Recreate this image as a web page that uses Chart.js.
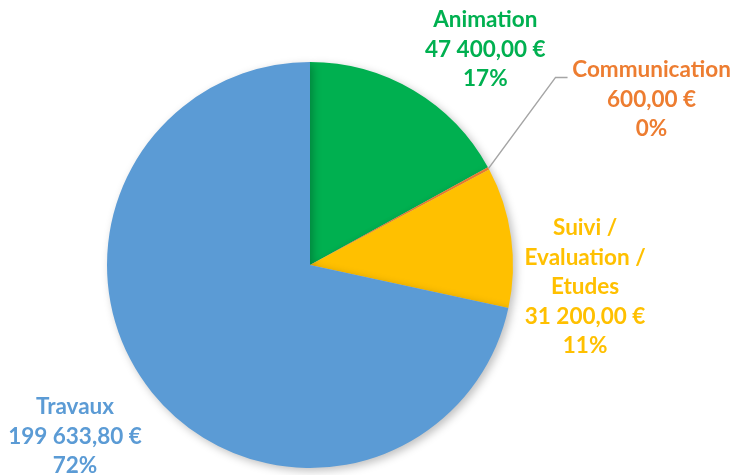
<!DOCTYPE html>
<html>
<head>
<meta charset="utf-8">
<script src="https://cdn.jsdelivr.net/npm/chart.js@4"></script>
<style>
  html, body { margin: 0; padding: 0; background: #fff; }
  #wrap { width: 731px; height: 475px; position: relative; }
</style>
</head>
<body>
<div id="wrap"><canvas id="pieBudget"></canvas></div>
<script>
const categories = ['Animation', 'Communication', 'Suivi / Evaluation / Etudes', 'Travaux'];
const labelLines = [['Animation'], ['Communication'], ['Suivi /', 'Evaluation /', 'Etudes'], ['Travaux']];
const montants = [47400, 600, 31200, 199633.8];
const couleurs = ['#00B050', '#ED7D31', '#FFC000', '#5B9BD5'];

// label placement relative to the slice's outer mid point
const labelOffsets = [[72, -41], [163, -69], [74, 50], [-77, 44]];

function fmtEuro(v) {
  let parts = v.toFixed(2).split('.');
  let ent = parts[0].replace(/\B(?=(\d{3})+(?!\d))/g, ' ');
  return ent + ',' + parts[1] + ' €';
}

const shadowPlugin = {
  id: 'shadow',
  beforeDatasetDraw(chart) {
    const c = chart.ctx;
    c.save();
    c.shadowColor = 'rgba(0,0,0,0.25)';
    c.shadowBlur = 8;
    c.shadowOffsetX = 3;
    c.shadowOffsetY = 3;
  },
  afterDatasetDraw(chart) {
    chart.ctx.restore();
  }
};

const labelsPlugin = {
  id: 'pieLabels',
  afterDatasetsDraw(chart) {
    const c = chart.ctx;
    const meta = chart.getDatasetMeta(0);
    const data = chart.data.datasets[0].data;
    const total = data.reduce((a, b) => a + b, 0);
    c.save();
    c.font = 'bold 22.5px Lato';
    c.textAlign = 'center';
    c.textBaseline = 'middle';
    meta.data.forEach((arc, i) => {
      const p = arc.getProps(['x', 'y', 'startAngle', 'endAngle', 'outerRadius'], true);
      const mid = (p.startAngle + p.endAngle) / 2;
      const ex = p.x + Math.cos(mid) * p.outerRadius;
      const ey = p.y + Math.sin(mid) * p.outerRadius;
      const lines = labelLines[i].concat([fmtEuro(data[i]), Math.round(data[i] / total * 100) + '%']);
      const lh = 29.5;
      const cx = ex + labelOffsets[i][0];
      const cy = ey + labelOffsets[i][1];
      c.fillStyle = couleurs[i];
      lines.forEach((t, k) => {
        c.fillText(t, cx, cy + (k - (lines.length - 1) / 2) * lh);
      });
      if (i === 1) {
        // leader line for the tiny slice
        c.strokeStyle = '#A5A5A5';
        c.lineWidth = 1.5;
        c.beginPath();
        c.moveTo(ex, ey);
        c.lineTo(ex + 67, ey - 91);
        c.lineTo(ex + 79, ey - 91);
        c.stroke();
      }
    });
    c.restore();
  }
};

const ctx = document.getElementById('pieBudget');
new Chart(ctx, {
  type: 'pie',
  data: {
    labels: categories,
    datasets: [{
      data: montants,
      backgroundColor: couleurs,
      borderWidth: 0
    }]
  },
  options: {
    responsive: true,
    maintainAspectRatio: false,
    animation: false,
    layout: { padding: { top: 62, bottom: 7, left: 107, right: 218 } },
    plugins: {
      legend: { display: false },
      tooltip: { enabled: false }
    }
  },
  plugins: [shadowPlugin, labelsPlugin]
});
</script>
</body>
</html>
